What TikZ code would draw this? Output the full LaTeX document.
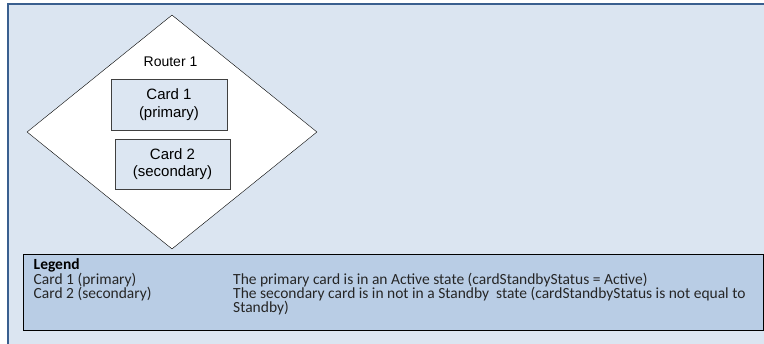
\documentclass[tikz,border=0pt]{standalone}
\usepackage{fontspec}
\setmainfont{Liberation Sans}
\newfontfamily\legendfont{Carlito}
\usetikzlibrary{shapes.geometric,positioning}
\definecolor{pagebg}{HTML}{DBE5F1}
\definecolor{framecol}{HTML}{3A5F8F}
\definecolor{cardfill}{HTML}{DCE6F2}
\definecolor{legendfill}{HTML}{B9CDE5}

\begin{document}
\begin{tikzpicture}[x=1pt,y=-1pt,
  card/.style={draw=black!75,fill=cardfill,minimum width=116pt,minimum height=51pt,
    inner sep=0pt,align=center,font=\fontsize{15}{17.5}\selectfont},
  legendtext/.style={anchor=base west,inner sep=0pt,text=black!85,
    text height=10pt,text depth=3pt,font=\legendfont\fontsize{15.5}{15.5}\selectfont}]
\useasboundingbox (0,0) rectangle (764,344);
\fill[pagebg] (8,4) rectangle (764,344);
\draw[framecol,line width=1.5pt] (8,344) -- (8,4) -- (764,4);

% router with its two cards
\node[diamond,draw,fill=white,minimum width=290pt,minimum height=234pt,inner sep=0pt] (router) at (172,132) {};
\node[font=\fontsize{14}{14}\selectfont] (routername) at (170.5,62) {Router 1};
\node[card] (card1) at (169,104.5) {Card 1\\(primary)};
\node[card,minimum width=115pt,minimum height=50pt] (card2) at (172.5,164) {Card 2\\(secondary)};

% legend
\node[draw,fill=legendfill,minimum width=740pt,minimum height=76pt,inner sep=0pt] (legend) at (393,292) {};
\node[legendtext,font=\legendfont\bfseries\fontsize{15.5}{15.5}\selectfont,text=black] (legtitle) at (33.5,269.5) {Legend};
\node[legendtext] (leg1) at (33.5,284.5) {Card 1 (primary)};
\node[legendtext] (leg2) at (33.5,298.5) {Card 2 (secondary)};
\node[legendtext] (desc1) at (233,284.5) {The primary card is in an Active state (cardStandbyStatus = Active)};
\node[legendtext] (desc2) at (233,298.5) {The secondary card is in not in a Standby~ state (cardStandbyStatus is not equal to};
\node[legendtext] (desc2b) at (233,312.5) {Standby)};
\end{tikzpicture}
\end{document}
